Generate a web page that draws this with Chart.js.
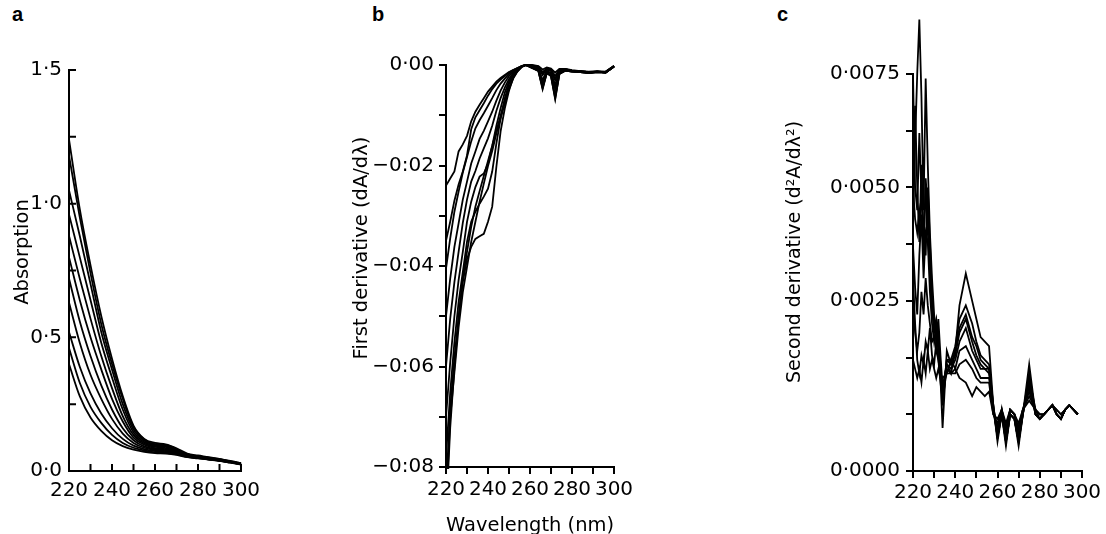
<!DOCTYPE html>
<html>
<head>
<meta charset="utf-8">
<script src="https://cdn.jsdelivr.net/npm/chart.js@4.4.0/dist/chart.umd.min.js"></script>
<style>
body{margin:0;background:#fff;width:1106px;height:534px;overflow:hidden;position:relative;font-family:"Liberation Sans",Arial,sans-serif}
canvas{position:absolute;top:0}
.letra{position:absolute;top:3px;font-weight:bold;font-size:20px;color:#000}
</style>
</head>
<body>
<div class="letra" style="left:12px">a</div>
<div class="letra" style="left:372px">b</div>
<div class="letra" style="left:777px">c</div>
<canvas id="grafA" width="270" height="534" style="left:0px"></canvas>
<canvas id="grafB" width="300" height="534" style="left:340px"></canvas>
<canvas id="grafC" width="336" height="534" style="left:770px"></canvas>
<script>
// eixo x comum (nm)
var xTickPos = [220,230,240,250,260,270,280,290,300];
var xTickLabels = ['220','','240','','260','','280','','300'];

// painel a - absorcao
var wlA = [220,225,230,235,240,245,250,255,260,265,270,275,280,285,290,295,300];
var a01 = [1.24,0.98,0.77,0.58,0.42,0.28,0.17,0.12,0.105,0.10,0.085,0.065,0.058,0.052,0.045,0.038,0.030];
var a02 = [1.18,0.95,0.74,0.55,0.40,0.27,0.165,0.118,0.10,0.098,0.082,0.063,0.056,0.050,0.044,0.036,0.029];
var a03 = [1.05,0.88,0.70,0.52,0.38,0.25,0.155,0.113,0.098,0.094,0.079,0.061,0.055,0.049,0.043,0.035,0.028];
var a04 = [0.96,0.80,0.64,0.48,0.35,0.23,0.145,0.108,0.094,0.090,0.076,0.060,0.054,0.048,0.042,0.035,0.028];
var a05 = [0.88,0.72,0.57,0.43,0.31,0.205,0.135,0.103,0.090,0.086,0.073,0.058,0.053,0.047,0.041,0.034,0.027];
var a06 = [0.80,0.64,0.50,0.38,0.27,0.185,0.125,0.098,0.086,0.082,0.070,0.057,0.052,0.046,0.040,0.034,0.027];
var a07 = [0.72,0.56,0.43,0.32,0.23,0.16,0.115,0.092,0.082,0.078,0.068,0.056,0.051,0.045,0.040,0.033,0.026];
var a08 = [0.63,0.48,0.36,0.27,0.195,0.14,0.105,0.087,0.078,0.074,0.066,0.055,0.050,0.045,0.039,0.033,0.026];
var a09 = [0.52,0.39,0.29,0.215,0.16,0.12,0.095,0.082,0.074,0.071,0.064,0.054,0.049,0.044,0.039,0.032,0.025];
var a10 = [0.46,0.33,0.24,0.18,0.135,0.105,0.087,0.077,0.070,0.068,0.062,0.053,0.048,0.043,0.038,0.032,0.025];
var a11 = [0.40,0.28,0.20,0.15,0.115,0.093,0.080,0.072,0.067,0.065,0.060,0.052,0.047,0.043,0.038,0.031,0.024];
var yTickPosA = [0,0.25,0.5,0.75,1,1.25,1.5];
var yTickLabelsA = ['0·0','','0·5','','1·0','','1·5'];

// painel b - primeira derivada
var wlB = [220,222,224,226,228,230,232,234,236,238,240,242,244,246,248,250,252,254,256,258,261,264,266,268,270,272,274,277,280,284,288,292,296,300];
var b01 = [-240e-4,-226e-4,-212e-4,-172e-4,-158e-4,-141e-4,-112e-4,-93e-4,-79e-4,-66e-4,-53e-4,-43e-4,-33e-4,-26e-4,-20e-4,-14e-4,-10e-4,-7e-4,-3e-4,0, 0,-2e-4,-9e-4,-5e-4,-7e-4,-15e-4,-8e-4,-8e-4,-10e-4,-12e-4,-13e-4,-12e-4,-13e-4,-2e-4];
var b02 = [-350e-4,-312e-4,-270e-4,-238e-4,-212e-4,-180e-4,-128e-4,-104e-4,-90e-4,-76e-4,-61e-4,-48e-4,-37e-4,-29e-4,-22e-4,-15e-4,-10e-4,-6e-4,-3e-4,0, -2e-4,-4e-4,-18e-4,-8e-4,-11e-4,-28e-4,-10e-4,-9e-4,-11e-4,-12e-4,-14e-4,-13e-4,-14e-4,-2e-4];
var b03 = [-405e-4,-345e-4,-292e-4,-252e-4,-214e-4,-183e-4,-152e-4,-126e-4,-110e-4,-96e-4,-81e-4,-66e-4,-50e-4,-37e-4,-27e-4,-18e-4,-11e-4,-6e-4,-2e-4,0, -1e-4,-3e-4,-14e-4,-7e-4,-9e-4,-22e-4,-9e-4,-9e-4,-11e-4,-12e-4,-14e-4,-13e-4,-14e-4,-2e-4];
var b04 = [-500e-4,-425e-4,-362e-4,-315e-4,-268e-4,-232e-4,-196e-4,-172e-4,-147e-4,-131e-4,-112e-4,-93e-4,-71e-4,-51e-4,-35e-4,-22e-4,-13e-4,-7e-4,-2e-4,0, -4e-4,-9e-4,-35e-4,-12e-4,-17e-4,-48e-4,-14e-4,-10e-4,-12e-4,-13e-4,-15e-4,-13e-4,-15e-4,-3e-4];
var b05 = [-600e-4,-505e-4,-432e-4,-372e-4,-314e-4,-268e-4,-232e-4,-211e-4,-186e-4,-166e-4,-146e-4,-121e-4,-91e-4,-66e-4,-45e-4,-28e-4,-16e-4,-8e-4,-2e-4,0, -4e-4,-9e-4,-32e-4,-12e-4,-16e-4,-42e-4,-14e-4,-10e-4,-12e-4,-13e-4,-15e-4,-13e-4,-15e-4,-3e-4];
var b06 = [-700e-4,-592e-4,-500e-4,-428e-4,-372e-4,-312e-4,-272e-4,-243e-4,-222e-4,-216e-4,-196e-4,-161e-4,-121e-4,-86e-4,-55e-4,-33e-4,-18e-4,-9e-4,-3e-4,0, -6e-4,-12e-4,-48e-4,-16e-4,-22e-4,-68e-4,-18e-4,-11e-4,-13e-4,-14e-4,-16e-4,-14e-4,-15e-4,-3e-4];
var b07 = [-780e-4,-652e-4,-552e-4,-472e-4,-412e-4,-352e-4,-312e-4,-292e-4,-276e-4,-262e-4,-246e-4,-212e-4,-156e-4,-106e-4,-66e-4,-38e-4,-20e-4,-10e-4,-3e-4,0, -6e-4,-11e-4,-44e-4,-15e-4,-21e-4,-62e-4,-17e-4,-11e-4,-13e-4,-14e-4,-16e-4,-14e-4,-15e-4,-3e-4];
var b08 = [-850e-4,-682e-4,-582e-4,-502e-4,-432e-4,-386e-4,-362e-4,-346e-4,-341e-4,-336e-4,-312e-4,-282e-4,-202e-4,-132e-4,-86e-4,-51e-4,-25e-4,-12e-4,-4e-4,0, -6e-4,-12e-4,-46e-4,-16e-4,-22e-4,-66e-4,-18e-4,-11e-4,-13e-4,-14e-4,-16e-4,-14e-4,-15e-4,-3e-4];
var b09 = [-900e-4,-722e-4,-602e-4,-502e-4,-422e-4,-372e-4,-322e-4,-282e-4,-251e-4,-221e-4,-191e-4,-161e-4,-131e-4,-101e-4,-71e-4,-45e-4,-25e-4,-12e-4,-4e-4,0, -4e-4,-9e-4,-30e-4,-12e-4,-17e-4,-40e-4,-14e-4,-10e-4,-12e-4,-13e-4,-15e-4,-13e-4,-15e-4,-3e-4];
var b10 = [-880e-4,-702e-4,-612e-4,-522e-4,-452e-4,-402e-4,-352e-4,-312e-4,-272e-4,-236e-4,-201e-4,-171e-4,-136e-4,-106e-4,-76e-4,-48e-4,-27e-4,-13e-4,-4e-4,0, -2e-4,-5e-4,-20e-4,-9e-4,-12e-4,-30e-4,-11e-4,-9e-4,-11e-4,-12e-4,-14e-4,-13e-4,-14e-4,-2e-4];
var yTickPosB = [-0.08,-0.07,-0.06,-0.05,-0.04,-0.03,-0.02,-0.01,0];
var yTickLabelsB = ['\u22120:08','','\u22120:06','','\u22120:04','','\u22120:02','','0·00'];

// painel c - segunda derivada
var wlC = [220,221,222,223,224,225,226,227,228,229,230,231,232,233,234,236,238,240,242,245,248,250,252,254,256,258,260,262,264,266,268,270,272,275,278,280,282,284,286,288,290,292,294,296,298];
var c01 = [42e-4,60e-4,75e-4,87e-4,70e-4,45e-4,74e-4,55e-4,40e-4,30e-4,22e-4,17e-4,21e-4,13e-4,6e-4, 11e-4,9e-4,14e-4,24e-4,31e-4,25e-4,21e-4,17e-4,16e-4,15e-4,2e-4, -6e-4,0,-7e-4,0,-1e-4,-7e-4,0,11e-4,0,-1e-4,0,1e-4,2e-4,0,-1e-4,1e-4,2e-4,1e-4,0];
var c02 = [75e-4,50e-4,45e-4,62e-4,48e-4,35e-4,52e-4,45e-4,35e-4,25e-4,18e-4,20e-4,15e-4,10e-4,4e-4, 12e-4,12e-4,15e-4,21e-4,24e-4,20e-4,16e-4,13e-4,12e-4,11e-4,2e-4, -5e-4,0,-6e-4,0,-1e-4,-6e-4,0,9e-4,0,-1e-4,0,1e-4,2e-4,0,-1e-4,1e-4,2e-4,1e-4,0];
var c03 = [50e-4,43e-4,40e-4,45e-4,42e-4,38e-4,50e-4,40e-4,32e-4,22e-4,20e-4,16e-4,18e-4,8e-4,-3e-4, 14e-4,11e-4,14e-4,19e-4,22e-4,17e-4,15e-4,12e-4,11e-4,10e-4,1e-4, -4e-4,0,-5e-4,1e-4,0,-5e-4,0,8e-4,1e-4,-1e-4,0,1e-4,2e-4,0,-1e-4,1e-4,2e-4,1e-4,0];
var c04 = [37e-4,28e-4,22e-4,35e-4,44e-4,30e-4,40e-4,38e-4,27e-4,20e-4,16e-4,19e-4,14e-4,9e-4,5e-4, 11e-4,10e-4,12e-4,16e-4,19e-4,14e-4,12e-4,10e-4,10e-4,9e-4,1e-4, -5e-4,1e-4,-6e-4,0,-1e-4,-6e-4,1e-4,6e-4,0,-1e-4,0,1e-4,2e-4,0,-1e-4,1e-4,2e-4,1e-4,0];
var c05 = [25e-4,18e-4,14e-4,18e-4,27e-4,22e-4,30e-4,24e-4,20e-4,16e-4,17e-4,14e-4,12e-4,7e-4,3e-4, 10e-4,9e-4,10e-4,14e-4,15e-4,12e-4,10e-4,8e-4,8e-4,8e-4,1e-4, -3e-4,1e-4,-4e-4,1e-4,0,-4e-4,1e-4,5e-4,1e-4,0,0,1e-4,2e-4,0,-1e-4,1e-4,2e-4,1e-4,0];
var c06 = [30e-4,20e-4,12e-4,9e-4,13e-4,11e-4,16e-4,14e-4,19e-4,13e-4,11e-4,16e-4,12e-4,9e-4,8e-4, 9e-4,9e-4,9e-4,11e-4,12e-4,10e-4,8e-4,7e-4,7e-4,7e-4,0, -2e-4,1e-4,-3e-4,1e-4,0,-3e-4,1e-4,4e-4,1e-4,0,0,1e-4,2e-4,1e-4,0,1e-4,2e-4,1e-4,0];
var c07 = [12e-4,10e-4,8e-4,10e-4,7e-4,12e-4,9e-4,14e-4,10e-4,12e-4,10e-4,8e-4,10e-4,8e-4,6e-4, 9e-4,12e-4,10e-4,8e-4,7e-4,4e-4,6e-4,5e-4,4e-4,5e-4,0, -1e-4,1e-4,-2e-4,1e-4,0,-2e-4,1e-4,3e-4,1e-4,0,0,1e-4,2e-4,1e-4,0,1e-4,2e-4,1e-4,0];
var c08 = [55e-4,68e-4,50e-4,38e-4,55e-4,40e-4,35e-4,50e-4,38e-4,26e-4,19e-4,21e-4,16e-4,11e-4,2e-4, 12e-4,11e-4,13e-4,18e-4,21e-4,16e-4,13e-4,11e-4,10e-4,10e-4,2e-4, -5e-4,0,-6e-4,0,-1e-4,-6e-4,0,7e-4,0,-1e-4,0,1e-4,2e-4,0,-1e-4,1e-4,2e-4,1e-4,0];
var yTickPosC = [-0.00125,0,0.00125,0.0025,0.00375,0.005,0.00625,0.0075];
var yTickLabelsC = ['0·0000','','','0·0025','','0·0050','','0·0075'];

var FONTE = '"DejaVu Sans", "Liberation Sans", sans-serif';

// titulo vertical do eixo y
var tituloLateral = {
    id: 'tituloLateral',
    afterDraw: function(chart, args, opts){
        var ctx = chart.ctx;
        ctx.save();
        ctx.translate(opts.x, opts.y);
        ctx.rotate(-Math.PI/2);
        ctx.font = opts.size + 'px ' + FONTE;
        ctx.fillStyle = '#000';
        ctx.textAlign = 'center';
        ctx.textBaseline = 'middle';
        ctx.fillText(opts.text, 0, 0);
        ctx.restore();
    }
};

// marcas de escala para dentro (painel a)
var ticksInternos = {
    id: 'ticksInternos',
    afterDraw: function(chart, args, opts){
        var ctx = chart.ctx, xs = chart.scales.x, ys = chart.scales.y;
        ctx.save();
        ctx.strokeStyle = '#000';
        ctx.lineWidth = 2;
        ctx.beginPath();
        xs.ticks.forEach(function(t){
            var px = xs.getPixelForValue(t.value);
            ctx.moveTo(px, xs.top);
            ctx.lineTo(px, xs.top - opts.len);
        });
        ys.ticks.forEach(function(t){
            var py = ys.getPixelForValue(t.value);
            ctx.moveTo(ys.right, py);
            ctx.lineTo(ys.right + opts.len, py);
        });
        ctx.stroke();
        ctx.restore();
    }
};

function serie(xs, ys){
    return ys.map(function(v, i){ return {x: xs[i], y: v}; });
}

function montaPainel(id, p){
    var dentro = p.dentro;
    var grade = dentro
        ? {display: false, drawTicks: false}
        : {display: true, drawOnChartArea: false, drawTicks: true, tickLength: 7, color: '#000', lineWidth: 2};
    var plugs = [tituloLateral];
    if (dentro) plugs.push(ticksInternos);

    return new Chart(document.getElementById(id), {
        type: 'line',
        data: {
            datasets: p.series.map(function(s){
                return {
                    data: serie(p.xs, s),
                    borderColor: '#000',
                    borderWidth: p.espessura,
                    pointRadius: 0,
                    fill: false,
                    tension: p.tensao,
                    cubicInterpolationMode: p.tensao ? 'monotone' : 'default',
                    clip: p.clip
                };
            })
        },
        options: {
            responsive: false,
            animation: false,
            events: [],
            layout: {padding: {top: p.topo, right: p.direita, left: 0, bottom: 0}},
            plugins: {
                legend: {display: false},
                tooltip: {enabled: false},
                tituloLateral: p.titulo,
                ticksInternos: {len: 7}
            },
            scales: {
                x: {
                    type: 'linear',
                    min: 220, max: 300,
                    afterBuildTicks: function(s){ s.ticks = xTickPos.map(function(v){ return {value: v}; }); },
                    afterFit: function(s){ s.height = p.alturaX; },
                    grid: grade,
                    border: {display: true, color: '#000', width: 2},
                    title: p.tituloX || {display: false},
                    ticks: {
                        autoSkip: false, maxRotation: 0, color: '#000',
                        padding: p.padX,
                        font: {family: FONTE, size: 20},
                        callback: function(v, i){ return xTickLabels[i]; }
                    }
                },
                y: {
                    type: 'linear',
                    min: p.yPos[0], max: p.yPos[p.yPos.length - 1],
                    afterBuildTicks: function(s){ s.ticks = p.yPos.map(function(v){ return {value: v}; }); },
                    afterFit: function(s){ s.width = p.larguraY; },
                    grid: grade,
                    border: {display: true, color: '#000', width: 2},
                    ticks: {
                        autoSkip: false, color: '#000',
                        padding: p.padY,
                        font: {family: FONTE, size: 20},
                        callback: function(v, i){ return p.yLab[i]; }
                    }
                }
            }
        },
        plugins: plugs
    });
}

montaPainel('grafA', {
    xs: wlA, series: [a01,a02,a03,a04,a05,a06,a07,a08,a09,a10,a11],
    yPos: yTickPosA, yLab: yTickLabelsA,
    dentro: true, espessura: 1.8, tensao: 0.4, clip: 4,
    topo: 70, direita: 29, larguraY: 69, alturaX: 63, padX: 8, padY: 7,
    titulo: {text: 'Absorption', x: 23, y: 252, size: 19.5}
});

montaPainel('grafB', {
    xs: wlB, series: [b01,b02,b03,b04,b05,b06,b07,b08,b09,b10],
    yPos: yTickPosB, yLab: yTickLabelsB,
    dentro: false, espessura: 1.8, tensao: 0, clip: 2,
    topo: 65, direita: 26, larguraY: 106, alturaX: 67, padX: 4, padY: 5,
    titulo: {text: 'First derivative (dA/d\u03bb)', x: 22, y: 248, size: 19.5},
    tituloX: {display: true, text: 'Wavelength (nm)', color: '#000', padding: {top: 0, bottom: -4}, font: {family: FONTE, size: 20}}
});

montaPainel('grafC', {
    xs: wlC, series: [c01,c02,c03,c04,c05,c06,c07,c08],
    yPos: yTickPosC, yLab: yTickLabelsC,
    dentro: false, espessura: 1.8, tensao: 0, clip: false,
    topo: 74, direita: 24, larguraY: 143, alturaX: 63, padX: 3, padY: 6,
    titulo: {text: 'Second derivative (d\u00b2A/d\u03bb\u00b2)', x: 25, y: 252, size: 19}
});
</script>
</body>
</html>
